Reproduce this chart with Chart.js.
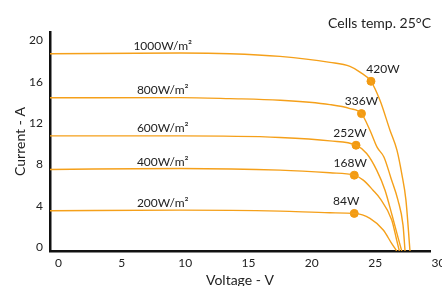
<!DOCTYPE html>
<html>
<head>
<meta charset="utf-8">
<script src="https://cdn.jsdelivr.net/npm/chart.js@4.4.0/dist/chart.umd.min.js"></script>
<style>
  html, body { margin: 0; padding: 0; background: #fff; }
  .wrap { width: 442px; height: 286px; }
</style>
</head>
<body>
<div class="wrap"><canvas id="ivChart" width="442" height="286"></canvas></div>
<script>
// irradiance curves, voltage (V) / current (A)
const irradiance = ['1000W/m²', '800W/m²', '600W/m²', '400W/m²', '200W/m²'];

const volt1000 = [0, 10.26, 14.21, 18.16, 22.10, 23.68, 24.47, 25.34, 26.05, 26.84, 27.39, 27.79, 28.10, 28.42];
const amp1000  = [19.10, 19.16, 19.10, 18.84, 18.26, 17.87, 17.32, 16.43, 14.59, 11.69, 9.76, 7.34, 4.93, 0];

const volt800 = [0, 10.26, 14.21, 18.16, 22.10, 23.68, 24.59, 25.26, 25.82, 26.37, 26.92, 27.47, 27.87, 28.03];
const amp800  = [14.83, 14.85, 14.75, 14.59, 14.17, 13.79, 13.30, 11.69, 10.05, 9.08, 7.05, 4.93, 2.51, 0];

const volt600 = [0, 10.26, 18.16, 22.10, 24.16, 25.00, 25.79, 26.45, 27.00, 27.50, 27.77];
const amp600  = [11.14, 11.14, 10.99, 10.66, 10.24, 9.44, 7.83, 5.89, 3.48, 1.20, 0];

const volt400 = [0, 10.26, 18.16, 22.10, 24.02, 24.73, 25.50, 26.05, 26.98, 27.37, 27.58];
const amp400  = [7.89, 7.99, 7.83, 7.57, 7.34, 6.86, 5.89, 5.10, 3.00, 1.06, 0];

const volt200 = [0, 10.26, 18.16, 22.10, 24.02, 25.26, 26.31, 26.97, 27.37];
const amp200  = [3.89, 3.96, 3.86, 3.70, 3.64, 3.16, 2.03, 0.74, 0];

// maximum power points
const mppVolt  = [25.34, 24.59, 24.16, 24.02, 24.02];
const mppAmp   = [16.43, 13.30, 10.24, 7.34, 3.64];
const mppLabel = ['420W', '336W', '252W', '168W', '84W'];

const xTicks = [0, 5, 10, 15, 20, 25, 30];
const yTicks = [0, 4, 8, 12, 16, 20];

const orange = '#f5a01a';
const dotColor = '#f29a12';
const font = 'Lato, "Open Sans", sans-serif';

const volts = [volt1000, volt800, volt600, volt400, volt200];
const amps = [amp1000, amp800, amp600, amp400, amp200];

const curveSets = irradiance.map((name, i) => ({
  type: 'line',
  label: name,
  data: volts[i].map((v, j) => ({ x: v, y: amps[i][j] })),
  borderColor: orange,
  borderWidth: 1.4,
  pointRadius: 0,
  cubicInterpolationMode: 'monotone',
  fill: false
}));

const mppSet = {
  type: 'scatter',
  label: 'mpp',
  data: mppVolt.map((v, i) => ({ x: v, y: mppAmp[i] })),
  backgroundColor: dotColor,
  borderColor: dotColor,
  pointRadius: 4,
  showLine: false
};

// text on the chart: curve names, power at the dots, temperature note
const labelPlugin = {
  id: 'ivLabels',
  afterDatasetsDraw(chart) {
    const { ctx, scales: { x, y } } = chart;
    ctx.save();
    ctx.fillStyle = '#222';
    ctx.font = '12px ' + font;
    ctx.textAlign = 'center';
    ctx.textBaseline = 'middle';
    irradiance.forEach((name, i) => {
      ctx.fillText(name, x.getPixelForValue(8.9), y.getPixelForValue(amps[i][0]) - 7.5);
    });
    const dx = [12, 0, -6, -4, -8];
    mppLabel.forEach((txt, i) => {
      ctx.fillText(txt, x.getPixelForValue(mppVolt[i]) + dx[i], y.getPixelForValue(mppAmp[i]) - 12);
    });
    ctx.font = '14px ' + font;
    ctx.textAlign = 'right';
    ctx.fillText('Cells temp. 25°C', 431, 23);
    ctx.restore();
  }
};

new Chart(document.getElementById('ivChart'), {
  data: { datasets: [...curveSets, mppSet] },
  options: {
    responsive: false,
    animation: false,
    layout: { padding: { top: 32, right: 12, left: 0, bottom: 0 } },
    plugins: { legend: { display: false }, tooltip: { enabled: false } },
    scales: {
      x: {
        type: 'linear',
        min: 0,
        max: 30,
        afterBuildTicks: s => { s.ticks = xTicks.map(v => ({ value: v })); },
        afterFit: s => { s.height = 35; },
        grid: { display: false, drawTicks: false },
        border: { display: true, color: '#111', width: 2.5 },
        ticks: { color: '#222', font: { size: 12, family: font }, padding: 5, labelOffset: 8.5, maxRotation: 0 },
        title: { display: true, text: 'Voltage - V', color: '#222', font: { size: 14, family: font, lineHeight: 0.8 }, padding: { top: 0, bottom: 0 } }
      },
      y: {
        type: 'linear',
        min: 0,
        max: 21.2,
        afterBuildTicks: s => { s.ticks = yTicks.map(v => ({ value: v })); },
        afterFit: s => { s.width = 50; },
        grid: { display: false, drawTicks: false },
        border: { display: true, color: '#111', width: 2.5 },
        ticks: { color: '#222', font: { size: 12, family: font }, padding: 7, labelOffset: -4 },
        title: { display: true, text: 'Current - A', color: '#222', font: { size: 14, family: font, lineHeight: 0.8 }, padding: { top: 15, bottom: 0 } }
      }
    }
  },
  plugins: [labelPlugin]
});
</script>
</body>
</html>
